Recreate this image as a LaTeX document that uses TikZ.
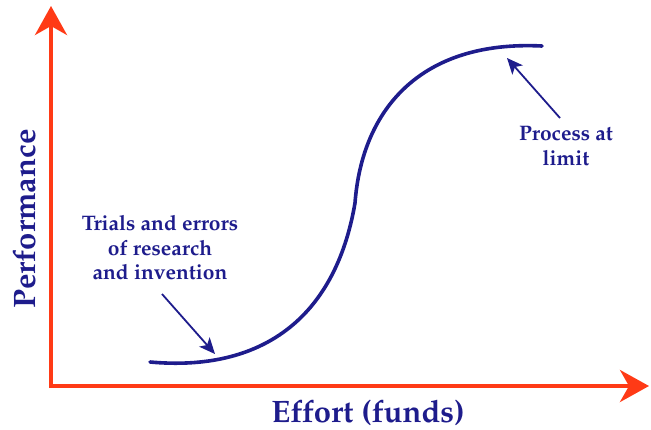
\documentclass[tikz,border=0pt]{standalone}
\usepackage[T1]{fontenc}
\usepackage{mathpazo}
\usetikzlibrary{arrows.meta}
\definecolor{axisred}{RGB}{255,58,22}
\definecolor{navy}{RGB}{30,28,140}
\tikzset{
  axisline/.style={draw=axisred,line width=4pt,-{Stealth[length=29pt,width=32pt,inset=9pt]}},
  scurve/.style={draw=navy,line width=3.6pt,line cap=round},
  pointer/.style={draw=navy,line width=1.8pt,-{Stealth[length=16pt,width=14pt,inset=4pt]}},
  smalltext/.style={text=navy,align=center,font=\bfseries\fontsize{21}{24.5}\selectfont,inner sep=0pt},
  bigtext/.style={text=navy,font=\bfseries\fontsize{31}{36}\selectfont,inner sep=0pt}
}
\begin{document}
\begin{tikzpicture}[x=1pt,y=-1pt]
\useasboundingbox (0,0) rectangle (651,429);
\coordinate (O) at (51,386);
\coordinate (ytip) at (51,6);
\coordinate (xtip) at (649,386);
\draw[axisline] ([yshift=-2pt]O) -- (ytip);
\draw[axisline] ([xshift=-2pt]O) -- (xtip);
\coordinate (cstart) at (150,362);
\coordinate (cmid) at (355,203);
\coordinate (cend) at (542,46);
\draw[scurve] (cstart) .. controls (260,372) and (335,320) .. (cmid)
  .. controls (362,110) and (420,40) .. (cend);
\node[bigtext,rotate=90] (perf) at (24,219) {Performance};
\node[bigtext] (effort) at (368,413) {Effort (funds)};
\node[smalltext] (trials) at (160,248) {Trials and errors\\of research\\and invention};
\node[smalltext] (limit) at (566,146) {Process at\\limit};
\coordinate (t1) at (162,294);
\coordinate (t2) at (215,354);
\coordinate (l1) at (560,118);
\coordinate (l2) at (507,58);
\draw[pointer] (t1) -- (t2);
\draw[pointer] (l1) -- (l2);
\end{tikzpicture}
\end{document}
